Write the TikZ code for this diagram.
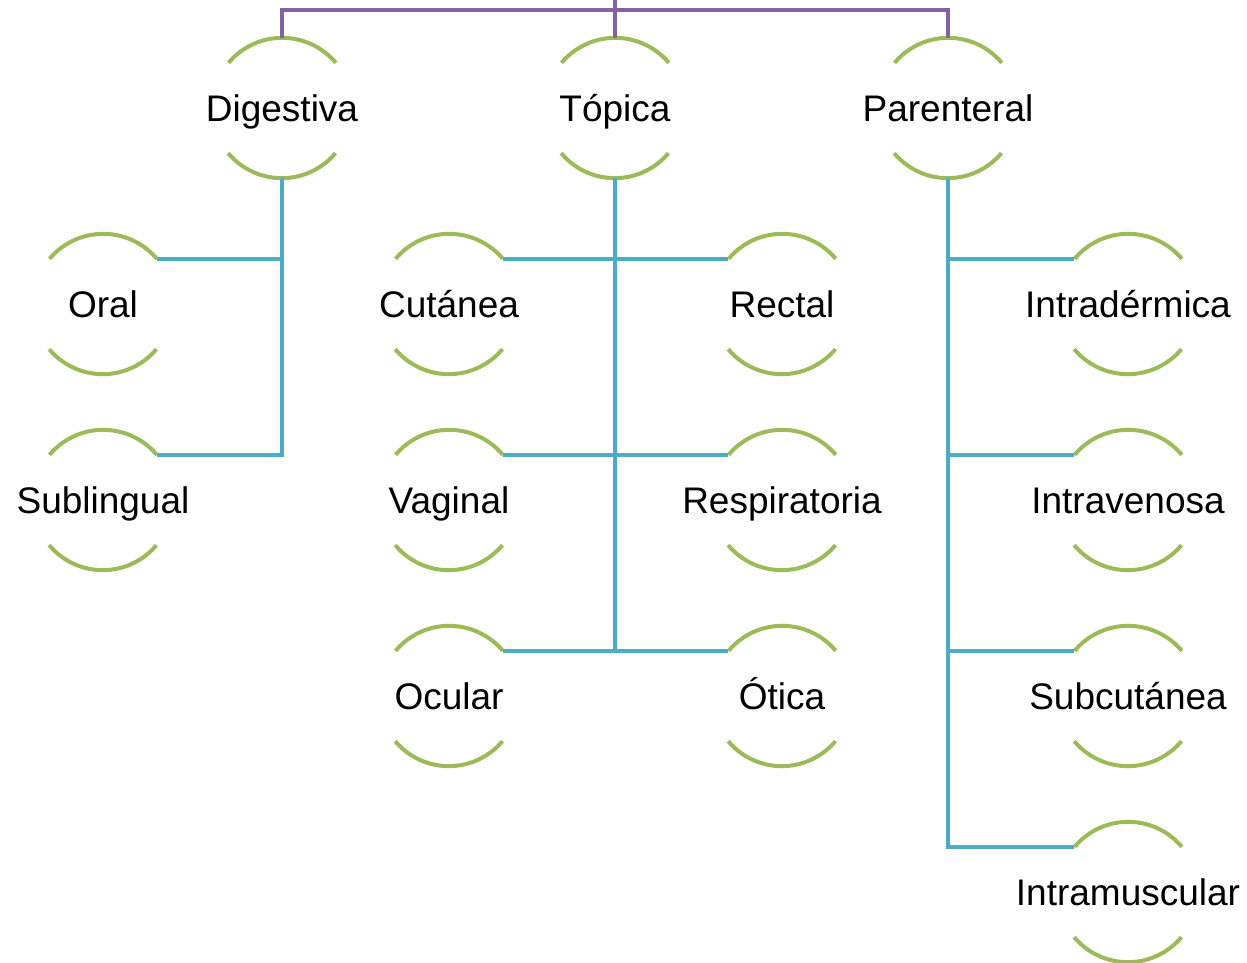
\documentclass[tikz,border=0pt]{standalone}
\usepackage{fontspec}
\setmainfont{Liberation Sans}
\definecolor{arcgreen}{HTML}{9BBB59}
\definecolor{linkblue}{HTML}{4BACC6}
\definecolor{rootpurple}{HTML}{8064A2}
\begin{document}
\begin{tikzpicture}[x=0.75pt,y=-0.75pt,
  via/.style={circle,minimum size=105pt,inner sep=0pt,
    label={[viatext]center:#1}},
  viatext/.style={inner sep=0pt,text height=20pt,text depth=0pt,
    font=\fontsize{27.75}{33}\selectfont},
  ring/.style={arcgreen,line width=3pt},
  link/.style={linkblue,line width=3pt},
  top/.style={rootpurple,line width=3pt}]
 \useasboundingbox (0, 0) rectangle (1247, 963) ;

 \node[via=Digestiva] (dig) at (282, 108) {} ;
 \node[via=Tópica] (top) at (615, 108) {} ;
 \node[via=Parenteral] (par) at (948, 108) {} ;

 \node[via=Oral] (oral) at (103, 304) {} ;
 \node[via=Sublingual] (subl) at (103, 500) {} ;

 \node[via=Cutánea] (cut) at (449, 304) {} ;
 \node[via=Rectal] (rec) at (782, 304) {} ;
 \node[via=Vaginal] (vag) at (449, 500) {} ;
 \node[via=Respiratoria] (resp) at (782, 500) {} ;
 \node[via=Ocular] (ocu) at (449, 696) {} ;
 \node[via=Ótica] (oti) at (782, 696) {} ;

 \node[via=Intradérmica] (idm) at (1128, 304) {} ;
 \node[via=Intravenosa] (ivn) at (1128, 500) {} ;
 \node[via=Subcutánea] (sbc) at (1128, 696) {} ;
 \node[via=Intramuscular] (imc) at (1128, 892) {} ;

 % arcs above and below each label
 \foreach \n in {dig,top,par,oral,subl,cut,rec,vag,resp,ocu,oti,idm,ivn,sbc,imc} {
   \draw[ring] (\n.40) arc[start angle=40, end angle=140, radius=52.5pt] ;
   \draw[ring] (\n.220) arc[start angle=220, end angle=320, radius=52.5pt] ;
 }

 \coordinate (root) at (615, -5) ;
 \coordinate (bar) at (615, 10) ;
 \draw[top] (root) -- (bar) ;
 \draw[top] (dig.north) |- (bar) -| (par.north) ;
 \draw[top] (bar) -- (top.north) ;

 \draw[link] (dig.south) |- (oral.40) ;
 \draw[link] (dig.south) |- (subl.40) ;

 \draw[link] (top.south) |- (cut.40) ;
 \draw[link] (top.south) |- (rec.140) ;
 \draw[link] (top.south) |- (vag.40) ;
 \draw[link] (top.south) |- (resp.140) ;
 \draw[link] (top.south) |- (ocu.40) ;
 \draw[link] (top.south) |- (oti.140) ;

 \draw[link] (par.south) |- (idm.140) ;
 \draw[link] (par.south) |- (ivn.140) ;
 \draw[link] (par.south) |- (sbc.140) ;
 \draw[link] (par.south) |- (imc.140) ;

\end{tikzpicture}
\end{document}
